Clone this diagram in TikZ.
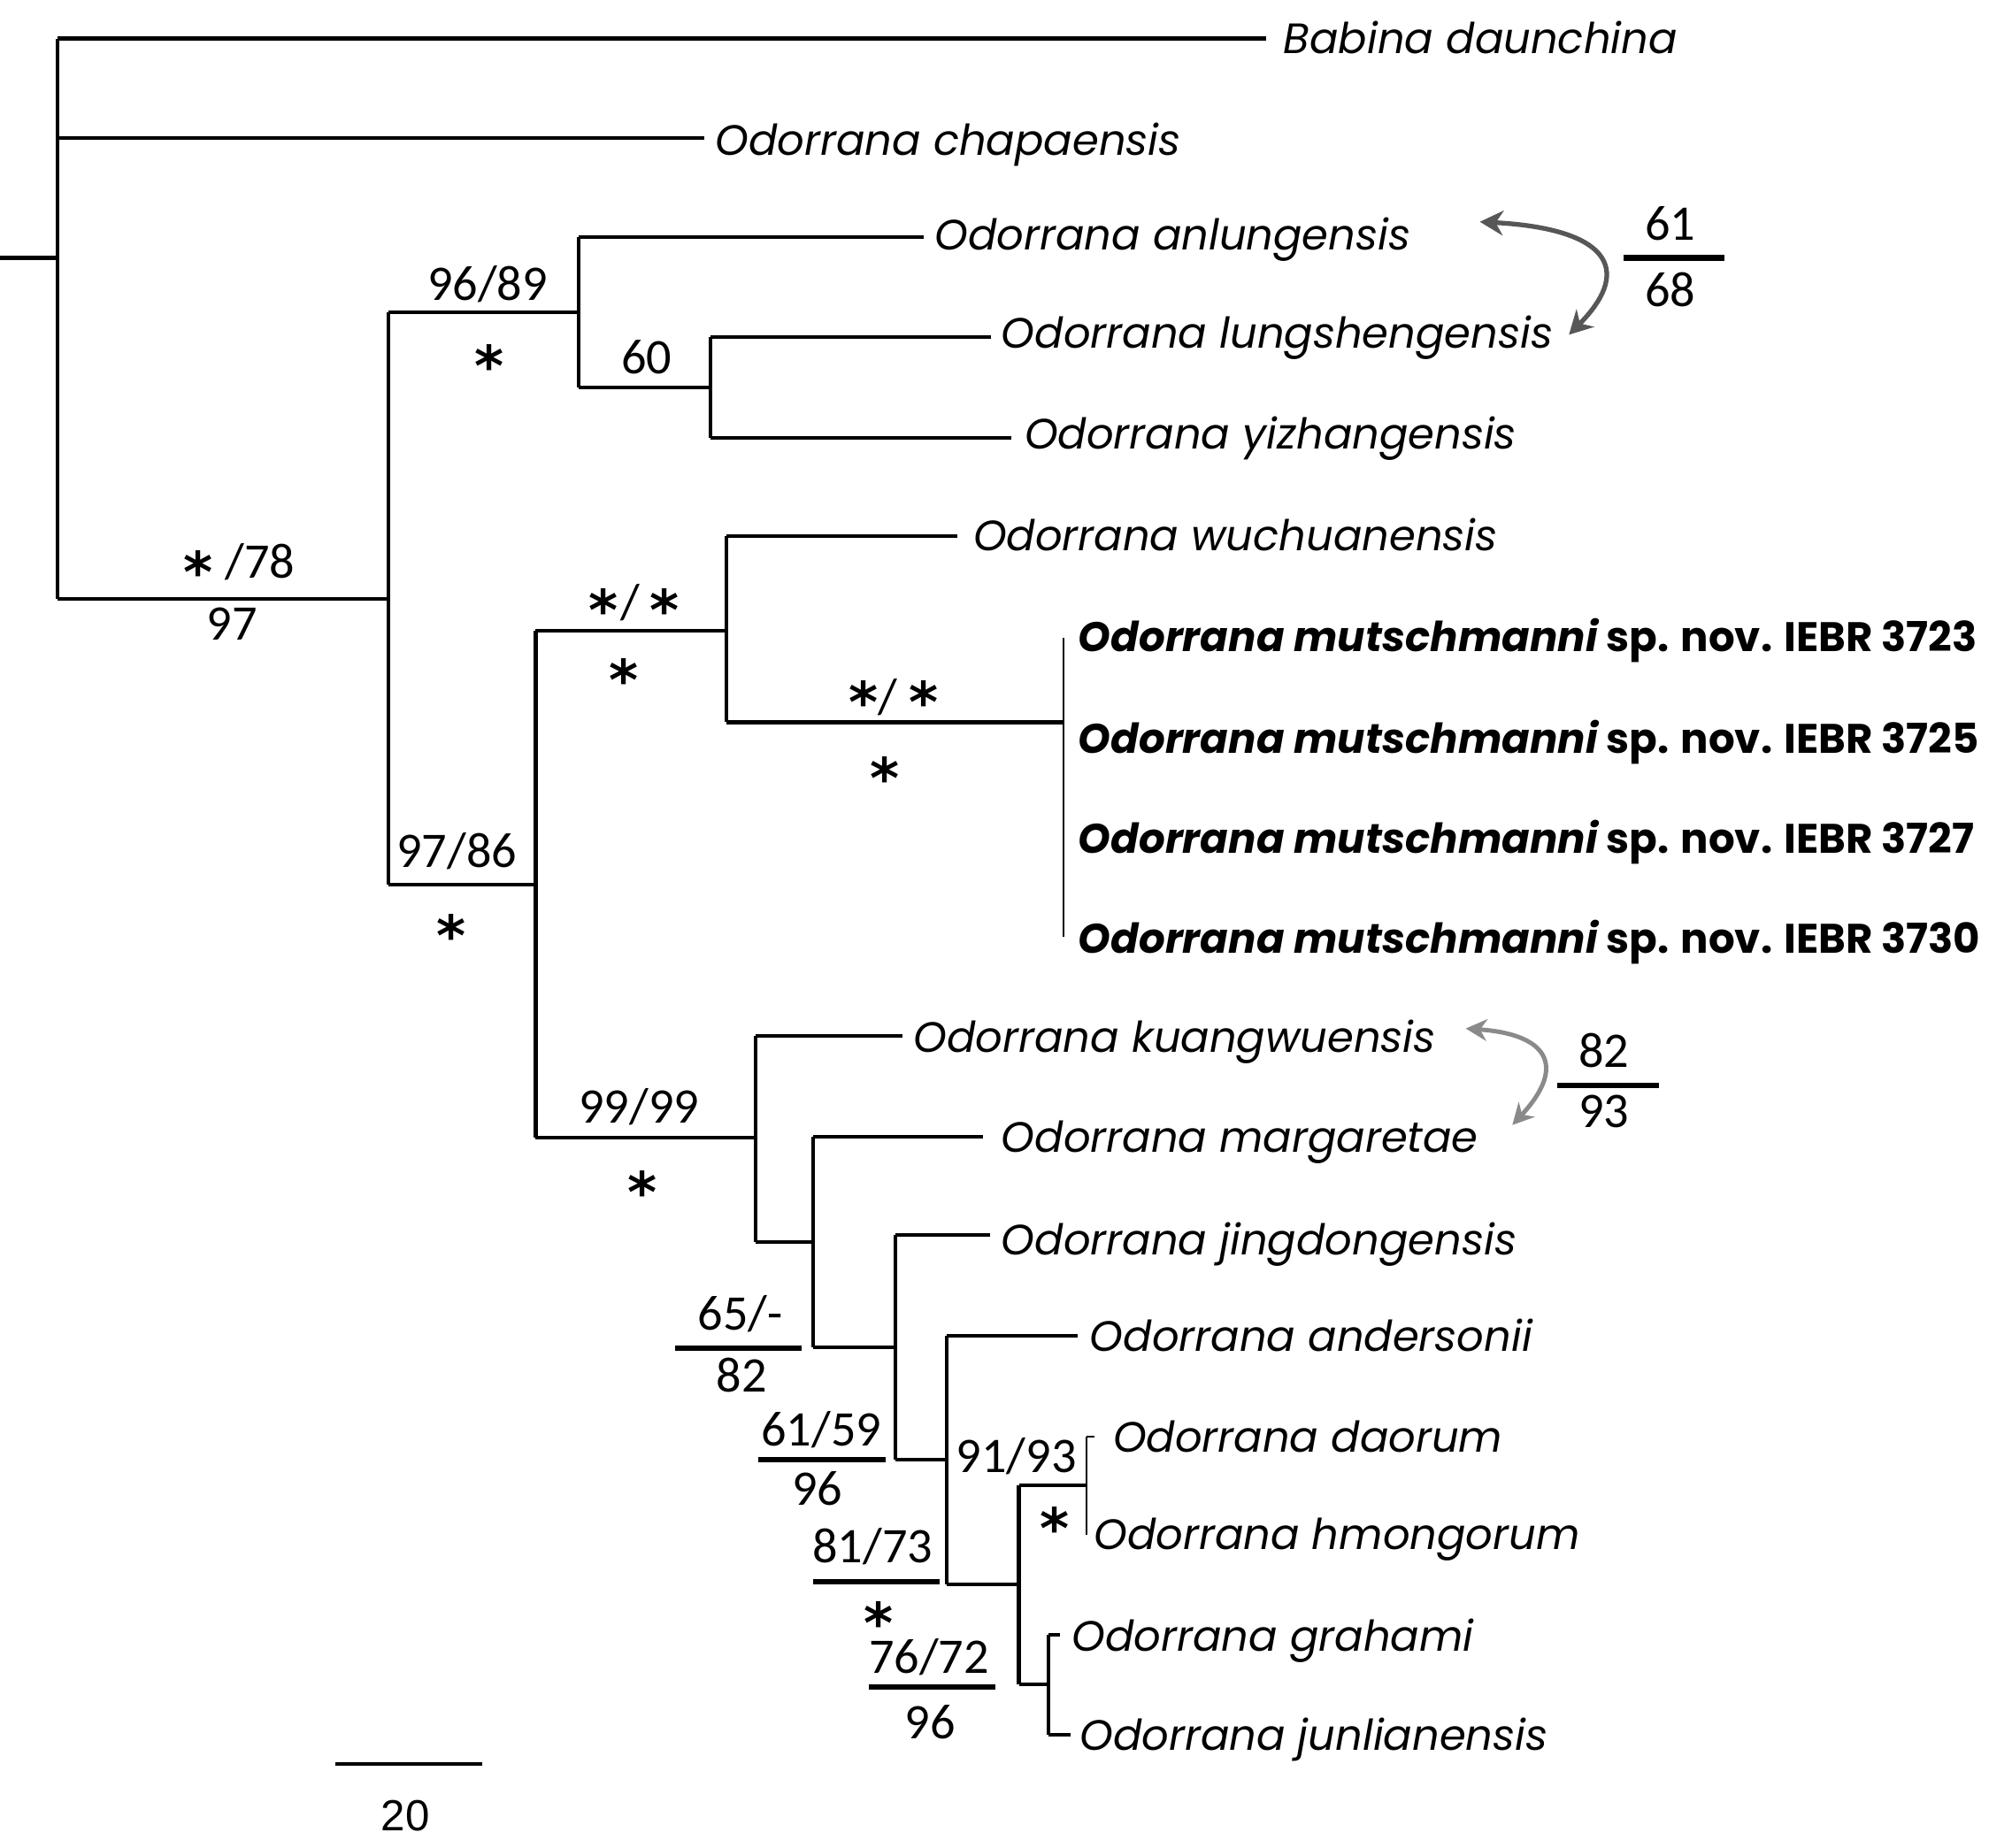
\documentclass[tikz,border=0pt]{standalone}
\usepackage{fontspec}
\setmainfont{Carlito}
\newfontfamily\namefont{Poppins}
\newfontfamily\numfont{Carlito}
\newfontfamily\starfont{DejaVu Sans}
\newfontfamily\scalefont{Liberation Sans}
\usetikzlibrary{arrows.meta}
\newcommand{\stg}{\raisebox{-0.39em}[0.37em][0pt]{*}}
\begin{document}
\begin{tikzpicture}[x=0.014503cm,y=-0.014503cm,
  br/.style={line width=1.15pt},
  thinbr/.style={line width=0.6pt},
  sp/.style={inner sep=0pt, anchor=base west, font=\namefont\itshape\fontsize{13.65}{15}\selectfont},
  bsp/.style={inner sep=0pt, anchor=base west, font=\namefont\bfseries\fontsize{13.27}{15}\selectfont},
  num/.style={inner sep=0pt, anchor=base, font=\numfont\fontsize{16}{18}\selectfont},
  slashn/.style={inner sep=0pt, anchor=center, font=\numfont\fontsize{16}{18}\selectfont},
  star/.style={inner sep=0pt, anchor=center, font=\starfont\bfseries\fontsize{18}{20}\selectfont},
  fbar/.style={line width=1.75pt},
  arrA/.style={line width=1.5pt, draw=black!66, {Stealth[length=7.5pt,width=8pt]}-{Stealth[length=7.5pt,width=8pt]}},
  arrB/.style={line width=1.4pt, draw=black!46, {Stealth[length=6.8pt,width=7pt]}-{Stealth[length=6.8pt,width=7pt]}}
]
\fill[white] (0,0) rectangle (1568,1440);
\useasboundingbox (0,0) rectangle (1568,1440);

% ---- tips ----
\coordinate (tB)  at (987,30);
\coordinate (tC)  at (549,107.5);
\coordinate (tAn) at (720,185);
\coordinate (tLu) at (772,263);
\coordinate (tYi) at (788,341);
\coordinate (tWu) at (746,418);
\coordinate (tKu) at (703,807.6);
\coordinate (tMa) at (766,886);
\coordinate (tJi) at (771.5,962.4);
\coordinate (tAd) at (840,1041);
\coordinate (tDa) at (853,1120);
\coordinate (tHm) at (847,1196);
\coordinate (tGr) at (826,1274);
\coordinate (tJu) at (834,1352);
% ---- internal nodes ----
\coordinate (r0) at (0,201);
\coordinate (n0) at (45,201);
\coordinate (nA) at (302.5,466.5);
\coordinate (nB) at (451,243.5);
\coordinate (nC) at (554,302);
\coordinate (nD) at (417.5,689.6);
\coordinate (nE) at (566,491.6);
\coordinate (nF) at (829,563);
\coordinate (nF1) at (829,497);
\coordinate (nF2) at (829,730);
\coordinate (nG) at (589,887);
\coordinate (nH) at (634,968);
\coordinate (nI) at (697.6,1050);
\coordinate (nJ) at (737.5,1138);
\coordinate (nK) at (794,1235);
\coordinate (nL) at (847,1158);
\coordinate (nM) at (817,1313);

% ---- branches ----
\draw[br] (r0) -- (n0);
\draw[br] (n0 |- tB) -- (n0 |- nA);
\draw[br] (n0 |- tB) -- (tB);
\draw[br] (n0 |- tC) -- (tC);
\draw[br] (n0 |- nA) -- (nA);
\draw[br] (nA |- nB) -- (nA |- nD);
\draw[br] (nA |- nB) -- (nB);
\draw[br] (nA |- nD) -- (nD);
\draw[br] (nB |- tAn) -- (nB |- nC);
\draw[br] (nB |- tAn) -- (tAn);
\draw[br] (nB |- nC) -- (nC);
\draw[br] (nC |- tLu) -- (nC |- tYi);
\draw[br] (nC |- tLu) -- (tLu);
\draw[br] (nC |- tYi) -- (tYi);
\draw[br] (nD |- nE) -- (nD |- nG);
\draw[br] (nD |- nE) -- (nE);
\draw[br] (nD |- nG) -- (nG);
\draw[br] (nE |- tWu) -- (nE |- nF);
\draw[br] (nE |- tWu) -- (tWu);
\draw[br] (nE |- nF) -- (nF);
\draw[thinbr] (nF1) -- (nF2);
\draw[br] (nG |- tKu) -- (nG |- nH);
\draw[br] (nG |- tKu) -- (tKu);
\draw[br] (nG |- nH) -- (nH);
\draw[br] (nH |- tMa) -- (nH |- nI);
\draw[br] (nH |- tMa) -- (tMa);
\draw[br] (nH |- nI) -- (nI);
\draw[br] (nI |- tJi) -- (nI |- nJ);
\draw[br] (nI |- tJi) -- (tJi);
\draw[br] (nI |- nJ) -- (nJ);
\draw[br] (nJ |- tAd) -- (nJ |- nK);
\draw[br] (nJ |- tAd) -- (tAd);
\draw[br] (nJ |- nK) -- (nK);
\draw[br] (nK |- nL) -- (nK |- nM);
\draw[br] (nK |- nL) -- (nL);
\draw[br] (nK |- nM) -- (nM);
\draw[thinbr] (nL |- tDa) -- (nL |- tHm);
\draw[thinbr] (nL |- tDa) -- (tDa);
\draw[br] (nM |- tGr) -- (nM |- tJu);
\draw[br] (nM |- tGr) -- (tGr);
\draw[br] (nM |- tJu) -- (tJu);

% ---- taxon labels ----
\node[sp] (lB)  at (1000,42)   {Babina daunchina};
\node[sp] (lC)  at (557,120.7) {Odorrana chapaensis};
\node[sp] (lAn) at (728,194.6) {Odorrana anlungensis};
\node[sp] (lLu) at (780,271)   {Odorrana lungshengensis};
\node[sp] (lYi) at (798,349.7) {Odorrana yizhangensis};
\node[sp] (lWu) at (758,429)   {Odorrana wuchuanensis};
\node[bsp] (lM1) at (840,508) {\itshape Odorrana mutschmanni\upshape{} sp. nov. IEBR 3723};
\node[bsp] (lM2) at (840,587) {\itshape Odorrana mutschmanni\upshape{} sp. nov. IEBR 3725};
\node[bsp] (lM3) at (840,665) {\itshape Odorrana mutschmanni\upshape{} sp. nov. IEBR 3727};
\node[bsp] (lM4) at (840,743) {\itshape Odorrana mutschmanni\upshape{} sp. nov. IEBR 3730};
\node[sp] (lKu) at (711.6,820) {Odorrana kuangwuensis};
\node[sp] (lMa) at (780,898)   {Odorrana margaretae};
\node[sp] (lJi) at (780,978)   {Odorrana jingdongensis};
\node[sp] (lAd) at (849,1053)  {Odorrana andersonii};
\node[sp] (lDa) at (867,1132)  {Odorrana daorum};
\node[sp] (lHm) at (852,1208)  {Odorrana hmongorum};
\node[sp] (lGr) at (835,1287)  {Odorrana grahami};
\node[sp] (lJu) at (841,1364)  {Odorrana junlianensis};

% ---- support values ----
\node[star] (sA) at (154.5,436.5) {\stg};
\node[num] (vA) at (202.7,450.7) {/78};
\node[num] (vA2) at (181,499) {97};
\node[num] (vB) at (380,234) {96/89};
\node[star] (sB) at (381,276) {\stg};
\node[num] (vC) at (504,291) {60};
\node[num] (vD) at (356,676.4) {97/86};
\node[star] (sD) at (352,720) {\stg};
\node[star] (sE1) at (470,466.5) {\stg};
\node[slashn] (sE2) at (491,469.5) {/};
\node[star] (sE3) at (517.6,466.5) {\stg};
\node[star] (sE4) at (486,520.6) {\stg};
\node[star] (sF1) at (673,538) {\stg};
\node[slashn] (sF2) at (692,543.7) {/};
\node[star] (sF3) at (720,538) {\stg};
\node[star] (sF4) at (689.6,597) {\stg};
\node[num] (vG) at (498,875.6) {99/99};
\node[star] (sG) at (500.6,920) {\stg};
\node[num] (vH) at (577,1036.7) {65/-};
\draw[fbar] (526,1051) coordinate (bH1) -- (625,1051) coordinate (bH2);
\node[num] (vH2) at (578,1085) {82};
\node[num] (vI) at (640,1127) {61/59};
\draw[fbar] (591,1138) coordinate (bI1) -- (690,1138) coordinate (bI2);
\node[num] (vI2) at (637,1173) {96};
\node[num] (vJ) at (680,1218) {81/73};
\draw[fbar] (634,1233) coordinate (bJ1) -- (732,1233) coordinate (bJ2);
\node[star] (sJ) at (684.7,1256) {\stg};
\node[num] (vK) at (724,1304) {76/72};
\draw[fbar] (677,1315) coordinate (bK1) -- (776,1315) coordinate (bK2);
\node[num] (vK2) at (725,1355) {96};
\node[num] (vL) at (792,1148) {91/93};
\node[star] (sL) at (822,1182) {\stg};

% ---- curved arrows and side values ----
\coordinate (aA1) at (1153.3,172.9);
\coordinate (aA2) at (1222.7,260.9);
\draw[arrA] (aA1) .. controls (1250,178) and (1275,208) .. (aA2);
\node[num] (q1) at (1301.5,187) {61};
\draw[fbar] (1265,201) coordinate (qb1) -- (1344,201) coordinate (qb2);
\node[num] (q2) at (1301.5,238.8) {68};

\coordinate (aB1) at (1142.3,801.7);
\coordinate (aB2) at (1178.6,876.9);
\draw[arrB] (aB1) .. controls (1205,806) and (1222,830) .. (aB2);
\node[num] (q3) at (1250,831.6) {82};
\draw[fbar] (1213.6,845.8) coordinate (qb3) -- (1292.8,845.8) coordinate (qb4);
\node[num] (q4) at (1250,879) {93};

% ---- scale bar ----
\coordinate (sc1) at (261,1375);
\coordinate (sc2) at (376,1375);
\draw[line width=1.1pt] (sc1) -- (sc2);
\node[inner sep=0pt, anchor=base, font=\scalefont\fontsize{14}{16}\selectfont] (scl) at (316,1427) {20};
\end{tikzpicture}
\end{document}
